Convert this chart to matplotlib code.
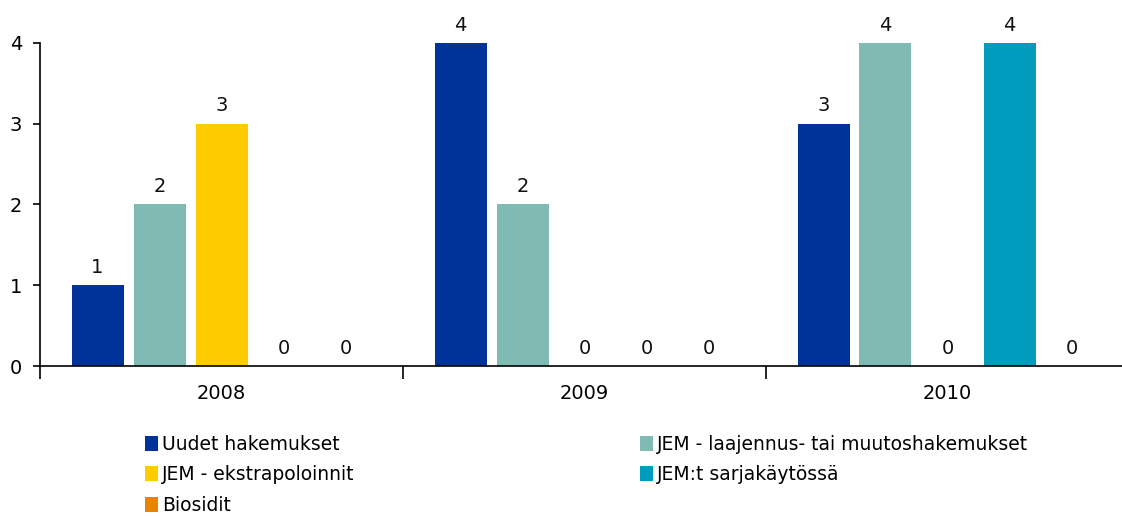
import numpy as np
import matplotlib
matplotlib.use("Agg")
import matplotlib.pyplot as plt
from matplotlib.patches import Patch

# data
years = ["2008", "2009", "2010"]
series = ["Uudet hakemukset",
          "JEM - laajennus- tai muutoshakemukset",
          "JEM - ekstrapoloinnit",
          "JEM:t sarjakäytössä",
          "Biosidit"]
uudet = [1, 4, 3]
laajennus = [2, 2, 4]
ekstrapoloinnit = [3, 0, 0]
sarjakaytossa = [0, 0, 4]
biosidit = [0, 0, 0]
values = [uudet, laajennus, ekstrapoloinnit, sarjakaytossa, biosidit]
colors = ["#003399", "#7fbbb2", "#ffcc00", "#009cbd", "#e98300"]

plt.rcParams["font.family"] = ["DejaVu Sans"]

fig = plt.figure(figsize=(11.22, 5.16), dpi=100)
ax = fig.add_axes([40 / 1122, 150 / 516, 1089 / 1122, 323 / 516])

step = 62 / 363
width = 52 / 363
x = np.arange(len(years)) + 0.5
for i, (vals, col) in enumerate(zip(values, colors)):
    bars = ax.bar(x + (i - 2) * step, vals, width=width, color=col, clip_on=False)
    ax.bar_label(bars, padding=6, fontsize=14, color="#111111")

ax.set_xlim(0, 3)
ax.set_ylim(0, 4)
ax.set_yticks([0, 1, 2, 3, 4])
ax.set_xticks(x)
ax.set_xticklabels(years)
ax.set_xticks([0, 1, 2, 3], minor=True)
ax.tick_params(axis="x", which="major", length=0, pad=13, labelsize=14)
ax.tick_params(axis="x", which="minor", length=9, width=1.2, direction="out")
ax.tick_params(axis="y", length=5, width=1.2, direction="out", pad=8, labelsize=14)
for s in ["top", "right"]:
    ax.spines[s].set_visible(False)
for s in ["left", "bottom"]:
    ax.spines[s].set_linewidth(1.2)

# legend in two columns, filled column-wise
order = [0, 2, 4, 1, 3]
handles = [Patch(facecolor=colors[k], edgecolor="none") for k in order]
labels = [series[k] for k in order]
fig.legend(handles, labels, ncol=2, loc="upper left",
           bbox_to_anchor=(0.1145, 0.19), frameon=False,
           fontsize=13.5, handlelength=0.7, handleheight=0.85,
           handletextpad=0.2, labelspacing=0.62, columnspacing=15.2)

fig.savefig("out.png", dpi=100)
